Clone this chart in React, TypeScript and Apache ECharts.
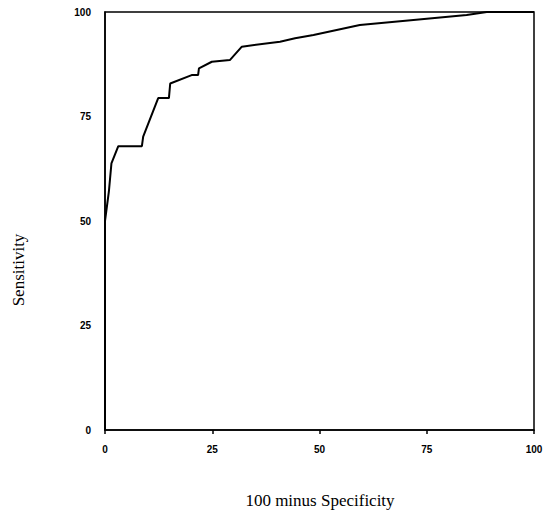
import React, { useEffect, useRef } from "react";
import * as echarts from "echarts";

// 100 minus specificity (x) and sensitivity (y) of the ROC curve
const fpr = [0, 0, 0.9, 1.5, 3.1, 8.6, 8.9, 12.4, 14.9, 15.2, 20.2, 21.7, 21.9, 24.9, 29.1, 31.9, 40.8, 44.3, 48.6, 59.4, 71.9, 84.3, 89, 100];
const sens = [0, 50, 57, 63.8, 67.9, 67.9, 70.2, 79.4, 79.4, 82.9, 84.9, 84.9, 86.5, 88.1, 88.5, 91.7, 92.9, 93.7, 94.5, 96.9, 98.1, 99.3, 100, 100];
const ticks = [0, 25, 50, 75, 100];
const xTitle = "100 minus Specificity";
const yTitle = "Sensitivity";

export default function App() {
  const ref = useRef<HTMLDivElement>(null);
  useEffect(() => {
    if (!ref.current) return;
    document.body.style.margin = "0";
    const chart = echarts.init(ref.current, undefined, { renderer: "svg" });
    const data = fpr.map((x, i) => [x, sens[i]]);
    const tickFont = { fontFamily: "Liberation Sans", fontWeight: "bold" as const, fontSize: 10, color: "#000" };
    chart.setOption({
      animation: false,
      backgroundColor: "#fff",
      grid: {
        left: 105,
        right: 14,
        top: 12,
        bottom: 85,
        show: true,
        borderColor: "#000",
        borderWidth: 1.5,
      },
      xAxis: {
        type: "value",
        min: ticks[0],
        max: ticks[ticks.length - 1],
        interval: 25,
        axisLine: { show: true, onZero: false, lineStyle: { color: "#000", width: 1.5 } },
        axisTick: { show: true, length: 4, lineStyle: { color: "#000", width: 1.5 } },
        axisLabel: { ...tickFont, margin: 14 },
        splitLine: { show: false },
      },
      yAxis: {
        type: "value",
        min: ticks[0],
        max: ticks[ticks.length - 1],
        interval: 25,
        axisLine: { show: true, onZero: false, lineStyle: { color: "#000", width: 1.5 } },
        axisTick: { show: false },
        axisLabel: { ...tickFont, margin: 14 },
        splitLine: { show: false },
      },
      series: [
        {
          type: "line",
          data,
          showSymbol: false,
          symbol: "none",
          lineStyle: { color: "#000", width: 2 },
        },
      ],
      graphic: [
        {
          type: "text",
          x: 320,
          y: 500,
          style: {
            text: xTitle,
            font: "17px 'Liberation Serif'",
            fill: "#000",
            align: "center",
            verticalAlign: "middle",
          },
        },
        {
          type: "text",
          x: 18,
          y: 270,
          rotation: Math.PI / 2,
          style: {
            text: yTitle,
            font: "17px 'Liberation Serif'",
            fill: "#000",
            align: "center",
            verticalAlign: "middle",
          },
        },
      ],
    });
    return () => chart.dispose();
  }, []);
  return <div ref={ref} style={{ width: 548, height: 515 }} />;
}
